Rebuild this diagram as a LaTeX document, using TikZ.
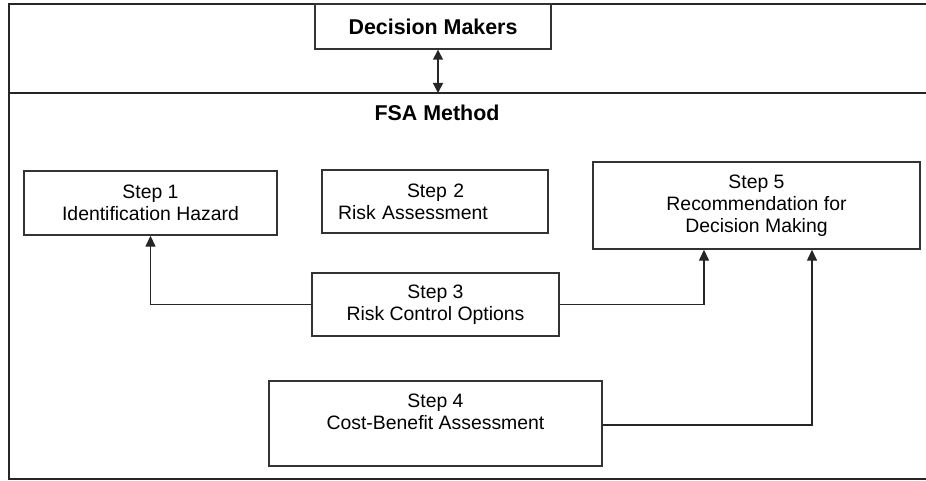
\documentclass[tikz,border=0pt]{standalone}
\usepackage{fontspec}
\setmainfont{Liberation Sans}
\usetikzlibrary{arrows.meta,calc}
\begin{document}
\begin{tikzpicture}[x=1pt,y=-1pt,
  line width=1.4pt,
  frame/.style={draw=black!85,line width=1.8pt},
  stepbox/.style={draw=black!80,line width=1.4pt,rectangle,inner sep=0pt,align=center,
    font=\fontsize{19.4}{22}\selectfont},
  arr/.style={draw=black!85,line width=1.4pt,-{Triangle[length=11pt,width=10pt]}},
  darr/.style={draw=black!85,line width=1.4pt,{Triangle[length=10pt,width=10pt]}-{Triangle[length=10pt,width=10pt]}}
]
\useasboundingbox (0,0) rectangle (926,481);
% frame
\coordinate (ftl) at (9,4);
\coordinate (ftr) at (926,4);
\coordinate (fml) at (9,93);
\coordinate (fmr) at (926,93);
\coordinate (fbl) at (9,479);
\coordinate (fbr) at (926,479);
\draw[frame] (ftr) -- (ftl) -- (fbl) -- (fbr);
\draw[frame] (fml) -- (fmr);
% decision makers
\node (dm) [stepbox, minimum width=236pt, minimum height=45pt, font=\fontsize{21.4}{24}\selectfont\bfseries] at (433,26.5) {Decision Makers};
\coordinate (dmb) at (438,93);
\draw[darr] ([xshift=5pt]dm.south) -- (dmb);
% title
\node (fsa) [font=\fontsize{21.4}{24}\selectfont\bfseries, inner sep=0pt] at (437,113) {FSA Method};
% steps
\node (s1) [stepbox, minimum width=253pt, minimum height=64pt] at (150.5,203) {Step 1\\Identification Hazard};
\node (s2) [stepbox, minimum width=226pt, minimum height=63pt, inner xsep=16pt, text width=194pt, align=left] at (435,201.5) {\hspace*{69pt}Step 2\\Risk Assessment};
\node (s5) [stepbox, minimum width=327pt, minimum height=87pt] at (756.5,205.5) {Step 5\\Recommendation for\\Decision Making};
\node (s3) [stepbox, minimum width=247pt, minimum height=63pt] at (435.5,304.5) {Step 3\\Risk Control Options};
\node (s4) [stepbox, minimum width=333pt, minimum height=85pt] at (435.5,423.5) {Step 4\\Cost-Benefit Assessment\\[2pt]~};
% connectors
\draw[arr] (s3.west) -| (s1.south);
\draw[arr] (s3.east) -| ([xshift=-52.5pt]s5.south);
\draw[arr] ([yshift=-1.5pt]s4.east) -| ([xshift=55.5pt]s5.south);
\end{tikzpicture}
\end{document}
